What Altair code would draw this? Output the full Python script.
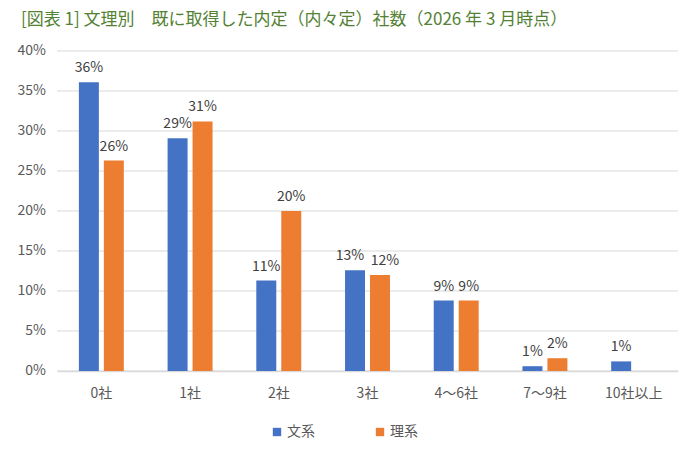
import altair as alt
import pandas as pd

# Number of job offers already received, by humanities / science track
categories = ["0社", "1社", "2社", "3社", "4～6社", "7～9社", "10社以上"]
bunkei = [36.1, 29.1, 11.3, 12.6, 8.8, 0.6, 1.2]   # 文系 (%)
rikei = [26.3, 31.2, 20.0, 12.0, 8.8, 1.6, 0.0]    # 理系 (%)
series = ["文系", "理系"]
colors = ["#4472C4", "#ED7D31"]
y_ticks = [0, 5, 10, 15, 20, 25, 30, 35, 40]

rows = []
for i, c in enumerate(categories):
    rows.append({"cat": c, "group": "文系", "value": bunkei[i]})
    rows.append({"cat": c, "group": "理系", "value": rikei[i]})
df = pd.DataFrame(rows)
ticks_df = pd.DataFrame({"value": y_ticks})

FONT = "Noto Sans CJK JP"
TEXT_GRAY = "#595959"
PLOT_W, PLOT_H = 621, 320

x_scale = alt.Scale(paddingInner=0.437, paddingOuter=0.2185)
xoff_scale = alt.Scale(paddingInner=0.2, paddingOuter=0.1)
y_scale = alt.Scale(domain=[0, 40], nice=False, zero=True)
x_axis = alt.Axis(title=None, labelAngle=0, labelFontSize=14,
                  labelColor=TEXT_GRAY, labelFont=FONT, labelPadding=15,
                  ticks=False, grid=False, domainColor="#d9d9d9", domainWidth=1.5)

# horizontal gridlines every 5%
grid = alt.Chart(ticks_df).mark_rule(color="#d9d9d9", strokeWidth=1).encode(
    y=alt.Y("value:Q", scale=y_scale, axis=None),
    x=alt.value(0),
    x2=alt.value(PLOT_W),
)

# y-axis tick labels
ylabels = alt.Chart(ticks_df).transform_calculate(
    label="datum.value + '%'"
).mark_text(align="right", baseline="middle", fontSize=14, color=TEXT_GRAY,
            font=FONT).encode(
    y=alt.Y("value:Q", scale=y_scale, axis=None),
    x=alt.value(-11),
    text="label:N",
)

bars = alt.Chart(df).mark_bar().encode(
    x=alt.X("cat:N", sort=categories, scale=x_scale, axis=x_axis),
    xOffset=alt.XOffset("group:N", sort=series, scale=xoff_scale),
    y=alt.Y("value:Q", scale=y_scale, axis=None),
    color=alt.Color("group:N", sort=series,
                    scale=alt.Scale(domain=series, range=colors),
                    legend=alt.Legend(title=None, orient="none", direction="horizontal",
                                      legendX=213, legendY=374, symbolType="square",
                                      symbolSize=70, symbolStrokeWidth=0,
                                      labelFontSize=14, labelColor=TEXT_GRAY,
                                      labelFont=FONT, columnPadding=58, labelOffset=3)),
)


def value_labels(cond, dx=0):
    """Percentage labels above the bars selected by cond."""
    return alt.Chart(df).transform_filter(
        (alt.datum.value > 0) & cond
    ).transform_calculate(
        label="round(datum.value) + '%'"
    ).mark_text(dy=-14, dx=dx, fontSize=14, color="#404040", font=FONT).encode(
        x=alt.X("cat:N", sort=categories, scale=x_scale, axis=x_axis),
        xOffset=alt.XOffset("group:N", sort=series, scale=xoff_scale),
        y=alt.Y("value:Q", scale=y_scale, axis=None),
        text="label:N",
    )


# the two close labels in the 3社 group are nudged apart
labels_main = value_labels(alt.datum.cat != "3社")
labels_3a = value_labels((alt.datum.cat == "3社") & (alt.datum.group == "文系"), dx=-5)
labels_3b = value_labels((alt.datum.cat == "3社") & (alt.datum.group == "理系"), dx=5)

chart = alt.layer(grid, ylabels, bars, labels_main, labels_3a, labels_3b).properties(
    width=PLOT_W,
    height=PLOT_H,
    autosize=alt.AutoSizeParams(type="none"),
    padding={"left": 57, "top": 51, "right": 22, "bottom": 83},
    background="white",
    title=alt.TitleParams(
        "[図表 1]  文理別　既に取得した内定（内々定）社数（2026 年 3 月時点）",
        anchor="start", frame="group", dx=-36, offset=2, baseline="alphabetic",
        fontSize=17, fontWeight="normal", color="#548235", font=FONT,
    ),
).configure_view(stroke=None)

chart.save("out.html", embed_options={"renderer": "svg", "actions": False})
